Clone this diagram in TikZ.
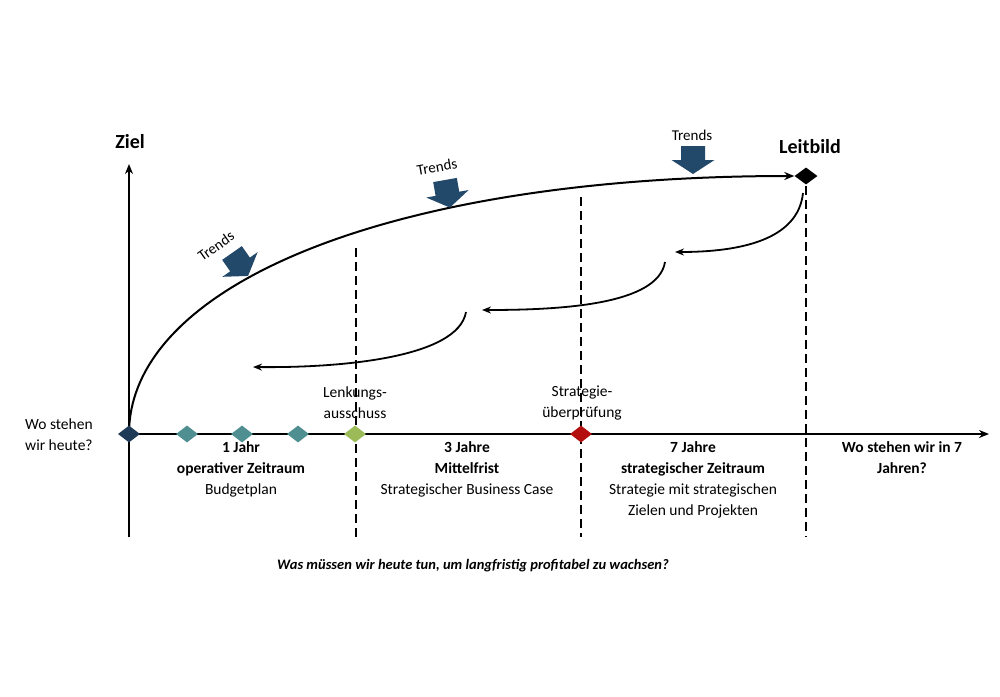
\documentclass[tikz,border=0pt]{standalone}
\usepackage{fontspec}
\setmainfont{Carlito}
\usetikzlibrary{arrows.meta,shapes.geometric,backgrounds}
\definecolor{trendcol}{HTML}{23496A}
\definecolor{navy}{HTML}{1F3A56}
\definecolor{tealc}{HTML}{4F8F91}
\definecolor{greenc}{HTML}{9BBB59}
\definecolor{redc}{HTML}{B40F0F}
\tikzset{
  x=1pt,y=-1pt,
  txt/.style={font=\fontsize{15.5}{21}\selectfont, align=center, inner sep=0pt},
  btxt/.style={txt, font=\fontsize{15.5}{21}\selectfont\bfseries},
  trendtxt/.style={font=\fontsize{15}{18}\selectfont, inner sep=0pt},
  mile/.style={diamond, minimum width=22pt, minimum height=17pt, inner sep=0pt, draw=none},
  axis/.style={line width=2pt, -{Stealth[length=10pt,width=8pt]}},
  curve/.style={line width=2pt, -{Stealth[length=10pt,width=8pt]}},
  back/.style={line width=1.8pt, -{Stealth[length=9pt,width=7pt]}},
  dash line/.style={line width=1.8pt, dash pattern=on 9pt off 5pt},
}
\newcommand\trendarrow[3]{\fill[trendcol,shift={(#1,#2)},rotate=#3]
  (-12,0) -- (12,0) -- (12,14) -- (21.5,14) -- (0,28) -- (-21.5,14) -- (-12,14) -- cycle;}
\begin{document}
\begin{tikzpicture}
\useasboundingbox (0,0) rectangle (1000,696);
% coordinates
\coordinate (ybot) at (129,537);
\coordinate (ytop) at (129,164);
\coordinate (xend) at (989,434);
\coordinate (d1t) at (356,248); \coordinate (d1b) at (356,537);
\coordinate (d2t) at (581,197); \coordinate (d2b) at (581,537);
\coordinate (d3t) at (806,186); \coordinate (d3b) at (806,537);
\coordinate (a1s) at (803,193); \coordinate (a1e) at (675,252);
\coordinate (a2s) at (665,262); \coordinate (a2e) at (482,310);
\coordinate (a3s) at (466,312); \coordinate (a3e) at (253,367);
% milestones
\node[mile, fill=navy] (o) at (129,434) {};
\node[mile, fill=tealc] (m1) at (187,434) {};
\node[mile, fill=tealc] (m2) at (242,434) {};
\node[mile, fill=tealc] (m3) at (298,434) {};
\node[mile, fill=greenc] (m4) at (355,434) {};
\node[mile, fill=redc] (m5) at (581,434) {};
\node[mile, fill=black, minimum width=23pt] (leit) at (806,176) {};
% lines behind
\begin{pgfonlayer}{background}
\draw[axis] (ybot) -- (ytop);
\draw[axis] (o.center) -- (xend);
\draw[dash line] (d1t) -- (d1b);
\draw[dash line] (d2t) -- (d2b);
\draw[dash line] (d3t) -- (d3b);
\draw[curve] (o.center) .. controls (129,285) and (390,176) .. (leit.west);
\end{pgfonlayer}
% backward arrows
\draw[back] (a1s) .. controls (798,240) and (740,252) .. (a1e);
\draw[back] (a2s) .. controls (658,305) and (560,310) .. (a2e);
\draw[back] (a3s) .. controls (458,358) and (340,368) .. (a3e);
% trends
\trendarrow{232}{253}{35}
\trendarrow{445}{180}{10}
\trendarrow{693}{146}{0}
\node[trendtxt, rotate=35] (t1) at (216,246) {Trends};
\node[trendtxt, rotate=10] (t2) at (437,167) {Trends};
\node[trendtxt] (t3) at (692,135) {Trends};
% labels
\node[font=\fontsize{20}{24}\selectfont\bfseries, inner sep=0pt] (ziel) at (130,142) {Ziel};
\node[font=\fontsize{20}{24}\selectfont\bfseries, inner sep=0pt] (leitl) at (810,147) {Leitbild};
\node[txt, align=left, anchor=west] (heute) at (25,435) {Wo stehen\\wir heute?};
\node[txt] (lenk) at (355,403) {Lenkungs-\\ausschuss};
\node[txt] (strat) at (582,403) {Strategie-\\überprüfung};
\node[txt, anchor=north] (p1) at (241,441) {\textbf{1 Jahr}\\\textbf{operativer Zeitraum}\\Budgetplan};
\node[txt, anchor=north] (p2) at (467,441) {\textbf{3 Jahre}\\\textbf{Mittelfrist}\\Strategischer Business Case};
\node[txt, anchor=north] (p3) at (693,441) {\textbf{7 Jahre}\\\textbf{strategischer Zeitraum}\\Strategie mit strategischen\\Zielen und Projekten};
\node[btxt, anchor=north] (p4) at (902,441) {Wo stehen wir in 7\\Jahren?};
\node[font=\fontsize{14.5}{18}\selectfont\bfseries\itshape, inner sep=0pt] (q) at (473,566) {Was müssen wir heute tun, um langfristig profitabel zu wachsen?};
\end{tikzpicture}
\end{document}
